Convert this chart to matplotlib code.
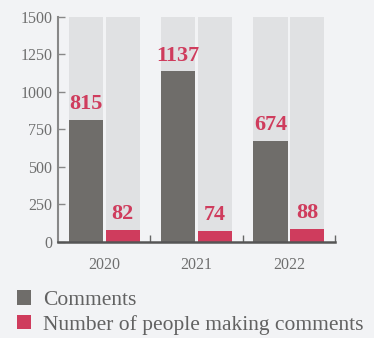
import matplotlib
matplotlib.use("Agg")
import matplotlib.pyplot as plt
from matplotlib.patches import Patch
import numpy as np

years = ["2020", "2021", "2022"]
comments = [815, 1137, 674]
people = [82, 74, 88]
y_ticks = [0, 250, 500, 750, 1000, 1250, 1500]
y_max = 1500

BG = "#f2f3f5"
TRACK = "#e0e1e3"
DARK = "#6f6d6a"
RED = "#cf3c5d"
TEXT = "#6e6e6e"

plt.rcParams["font.family"] = ["Liberation Serif", "DejaVu Serif"]

fig = plt.figure(figsize=(3.74, 3.38), dpi=100, facecolor=BG)
ax = fig.add_axes([0.155, 0.284, 0.741, 0.666], facecolor=BG)

x = np.arange(len(years))
w = 0.37
off = 0.2

# light full-height tracks behind each bar
ax.bar(x - off, [y_max] * len(x), w, color=TRACK, zorder=1)
ax.bar(x + off, [y_max] * len(x), w, color=TRACK, zorder=1)
ax.bar(x - off, comments, w, color=DARK, zorder=2)
ax.bar(x + off, people, w, color=RED, zorder=2)

for xi, v in zip(x - off, comments):
    ax.annotate(str(v), (xi, v), xytext=(0, 7.5), textcoords="offset points",
                ha="center", va="baseline", color=RED, fontsize=16,
                fontweight="bold", zorder=3)
for xi, v in zip(x + off, people):
    ax.annotate(str(v), (xi, v), xytext=(0, 7.5), textcoords="offset points",
                ha="center", va="baseline", color=RED, fontsize=16,
                fontweight="bold", zorder=3)

ax.set_xlim(-0.5, 2.5)
ax.set_ylim(0, y_max)
ax.set_yticks(y_ticks)
ax.set_yticklabels([str(t) for t in y_ticks])
ax.set_xticks(x)
ax.set_xticklabels(years)
ax.set_xticks([0.5, 1.5, 2.5], minor=True)

ax.tick_params(axis="y", direction="in", length=5, width=1, color="#888888",
               labelsize=11.5, labelcolor=TEXT, pad=4)
ax.tick_params(axis="x", which="major", length=0, labelsize=11.5,
               labelcolor=TEXT, pad=11)
ax.tick_params(axis="x", which="minor", direction="in", length=5, width=1,
               color="#666666")

for s in ["top", "right"]:
    ax.spines[s].set_visible(False)
ax.spines["left"].set_color("#888888")
ax.spines["left"].set_linewidth(1.5)
ax.spines["bottom"].set_color("#555555")
ax.spines["bottom"].set_linewidth(1.8)

handles = [Patch(facecolor=DARK, edgecolor="none"),
           Patch(facecolor=RED, edgecolor="none")]
fig.legend(handles, ["Comments", "Number of people making comments"],
           loc="lower left", bbox_to_anchor=(0.045, 0.01), frameon=False,
           fontsize=15.5, labelcolor="#626262", handlelength=0.68,
           handleheight=0.68, handletextpad=0.55, labelspacing=0.2,
           borderpad=0, borderaxespad=0)

fig.savefig("out.png", dpi=100, facecolor=BG)
